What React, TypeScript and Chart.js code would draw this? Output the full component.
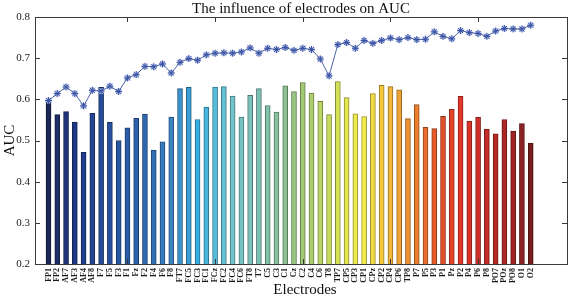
import React, { useEffect, useRef } from "react";
import { Chart, registerables } from "chart.js";

Chart.register(...registerables);

const electrodes = [
  "FP1", "FP2", "AF7", "AF3", "AF4", "AF8", "F7", "F5", "F3", "F1", "Fz", "F2", "F4", "F6", "F8",
  "FT7", "FC5", "FC3", "FC1", "FCz", "FC2", "FC4", "FC6", "FT8", "T7", "C5", "C3", "C1", "Cz", "C2",
  "C4", "C6", "T8", "TP7", "CP5", "CP3", "CP1", "CPz", "CP2", "CP4", "CP6", "TP8", "P7", "P5", "P3",
  "P1", "Pz", "P2", "P4", "P6", "P8", "PO7", "POz", "PO8", "O1", "O2",
];

// AUC of each single electrode (bars)
const singleAUC = [
  0.595, 0.563, 0.570, 0.545, 0.471, 0.566, 0.629, 0.544, 0.500, 0.531, 0.554, 0.564, 0.477, 0.497, 0.557,
  0.626, 0.629, 0.551, 0.581, 0.630, 0.631, 0.608, 0.557, 0.610, 0.626, 0.585, 0.569, 0.633, 0.619, 0.641,
  0.615, 0.595, 0.563, 0.643, 0.604, 0.565, 0.558, 0.614, 0.634, 0.631, 0.623, 0.553, 0.587, 0.532, 0.529,
  0.559, 0.576, 0.607, 0.547, 0.556, 0.528, 0.516, 0.551, 0.523, 0.541, 0.494,
];

// AUC when electrodes are accumulated (line)
const cumulativeAUC = [
  0.597, 0.614, 0.630, 0.614, 0.584, 0.622, 0.620, 0.632, 0.619, 0.652, 0.660, 0.680, 0.679, 0.686, 0.664,
  0.690, 0.699, 0.695, 0.708, 0.712, 0.713, 0.712, 0.715, 0.725, 0.712, 0.724, 0.721, 0.726, 0.719, 0.724,
  0.721, 0.698, 0.657, 0.733, 0.738, 0.724, 0.743, 0.736, 0.743, 0.749, 0.745, 0.750, 0.745, 0.746, 0.764,
  0.753, 0.747, 0.767, 0.762, 0.760, 0.753, 0.766, 0.772, 0.771, 0.771, 0.780,
];

const yTicks = [0.2, 0.3, 0.4, 0.5, 0.6, 0.7, 0.8];
const xMajorTicks = [10, 20, 30, 40, 50];

const titleText = "The influence of electrodes on AUC";
const xTitle = "Electrodes";
const yTitle = "AUC";

// colour map stops: [position (1-based bar index), colour]
const colorStops: [number, string][] = [
  [1, "#1c2757"], [4, "#1e3888"], [8, "#27519f"], [12, "#2f68b0"], [15, "#3a84c4"],
  [18, "#38ade0"], [20, "#55bddc"], [22, "#72c4cc"], [25, "#7cc2b4"], [28, "#8cc292"],
  [30, "#a2c974"], [33, "#c8dc5c"], [35, "#e2e650"], [37, "#f4ec48"], [39, "#f3c83c"],
  [41, "#f0a434"], [43, "#eb7f2e"], [45, "#e65c2b"], [48, "#e2382a"], [51, "#c62c28"],
  [54, "#a02525"], [56, "#781c1c"],
];

function hexToRgb(h: string) {
  const n = parseInt(h.slice(1), 16);
  return [(n >> 16) & 255, (n >> 8) & 255, n & 255];
}
function colorAt(i: number, factor = 1) {
  let a = colorStops[0], b = colorStops[colorStops.length - 1];
  for (let k = 0; k < colorStops.length - 1; k++) {
    if (i >= colorStops[k][0] && i <= colorStops[k + 1][0]) { a = colorStops[k]; b = colorStops[k + 1]; break; }
  }
  const t = b[0] === a[0] ? 0 : (i - a[0]) / (b[0] - a[0]);
  const ca = hexToRgb(a[1]), cb = hexToRgb(b[1]);
  const c = ca.map((v, j) => Math.round((v + (cb[j] - v) * t) * factor));
  return `rgb(${c[0]},${c[1]},${c[2]})`;
}

const SERIF = "'Liberation Serif', 'Times New Roman', serif";

export default function App() {
  const ref = useRef<HTMLCanvasElement>(null);
  useEffect(() => {
    document.body.style.margin = "0";
    const canvas = ref.current!;
    const barData = singleAUC.map((v, i) => ({ x: i + 1, y: v }));
    const lineData = cumulativeAUC.map((v, i) => ({ x: i + 1, y: v }));

    const framePlugin = {
      id: "frame",
      afterDraw(chart: any) {
        const { ctx, chartArea: ca, scales } = chart;
        const xs = scales.x, ys = scales.y;
        ctx.save();
        ctx.strokeStyle = "#3a3a3a";
        ctx.lineWidth = 1;
        ctx.strokeRect(Math.round(ca.left) + 0.5, Math.round(ca.top) + 0.5,
          Math.round(ca.right - ca.left), Math.round(ca.bottom - ca.top));
        ctx.beginPath();
        for (const v of yTicks) {
          const y = Math.round(ys.getPixelForValue(v)) + 0.5;
          ctx.moveTo(ca.left, y); ctx.lineTo(ca.left + 5, y);
          ctx.moveTo(ca.right, y); ctx.lineTo(ca.right - 5, y);
        }
        for (const v of xMajorTicks) {
          const x = Math.round(xs.getPixelForValue(v)) + 0.5;
          ctx.moveTo(x, ca.top); ctx.lineTo(x, ca.top + 5);
          ctx.moveTo(x, ca.bottom); ctx.lineTo(x, ca.bottom - 5);
        }
        ctx.stroke();
        ctx.fillStyle = "#111";
        ctx.textAlign = "center";
        ctx.textBaseline = "alphabetic";
        ctx.font = `15px ${SERIF}`;
        const cx = (ca.left + ca.right) / 2;
        ctx.fillText(titleText, cx, 13);
        ctx.fillText(xTitle, cx + 4, 294);
        ctx.save();
        ctx.translate(14, (ca.top + ca.bottom) / 2);
        ctx.rotate(-Math.PI / 2);
        ctx.fillText(yTitle, 0, 0);
        ctx.restore();
        ctx.restore();
      },
    };

    const chart = new Chart(canvas, {
      type: "bar",
      data: {
        datasets: [
          {
            type: "line",
            data: lineData,
            borderColor: "#4a63a8",
            borderWidth: 1,
            pointStyle: "star",
            pointRadius: 3.5,
            pointBorderColor: "#3a52a0",
            pointBorderWidth: 1,
            pointBackgroundColor: "#3a52a0",
            order: 0,
          } as any,
          {
            type: "line",
            data: lineData,
            showLine: false,
            pointStyle: "circle",
            pointRadius: 3.2,
            pointBorderWidth: 0,
            pointBackgroundColor: "rgba(175,190,235,0.9)",
            order: 1,
          } as any,
          {
            type: "bar",
            data: barData,
            base: 0.2,
            barThickness: 5,
            backgroundColor: singleAUC.map((_, i) => colorAt(i + 1)),
            borderColor: singleAUC.map((_, i) => colorAt(i + 1, 0.62)),
            borderWidth: 1,
            borderSkipped: "start",
            order: 2,
          } as any,
        ],
      },
      options: {
        animation: false,
        responsive: false,
        layout: { padding: { top: 17, right: 4, left: 0, bottom: 0 } },
        plugins: { legend: { display: false }, tooltip: { enabled: false }, title: { display: false } },
        scales: {
          x: {
            type: "linear",
            min: 0,
            max: 59.6,
            grid: { display: false, drawTicks: false },
            border: { display: false },
            afterBuildTicks: (scale: any) => {
              scale.ticks = electrodes.map((_, i) => ({ value: i + 1 }));
            },
            afterFit: (scale: any) => { scale.height = 34; },
            ticks: {
              autoSkip: false,
              minRotation: 90,
              maxRotation: 90,
              padding: 4,
              color: "#1a1a1a",
              font: { family: SERIF, size: 8, weight: "bold" },
              callback: (v: any) => electrodes[Math.round(v) - 1] ?? "",
            },
          },
          y: {
            min: 0.2,
            max: 0.8,
            grid: { display: false, drawTicks: false },
            border: { display: false },
            afterFit: (scale: any) => { scale.width = 35; },
            afterBuildTicks: (scale: any) => {
              scale.ticks = yTicks.map((v) => ({ value: v }));
            },
            ticks: {
              padding: 5,
              color: "#1a1a1a",
              font: { family: SERIF, size: 11 },
              callback: (v: any) => Number(v).toFixed(1),
            },
          },
        },
      } as any,
      plugins: [framePlugin],
    });
    return () => chart.destroy();
  }, []);
  return (
    <div style={{ width: 572, height: 298, background: "#fff" }}>
      <canvas ref={ref} width={572} height={298} style={{ display: "block" }} />
    </div>
  );
}
